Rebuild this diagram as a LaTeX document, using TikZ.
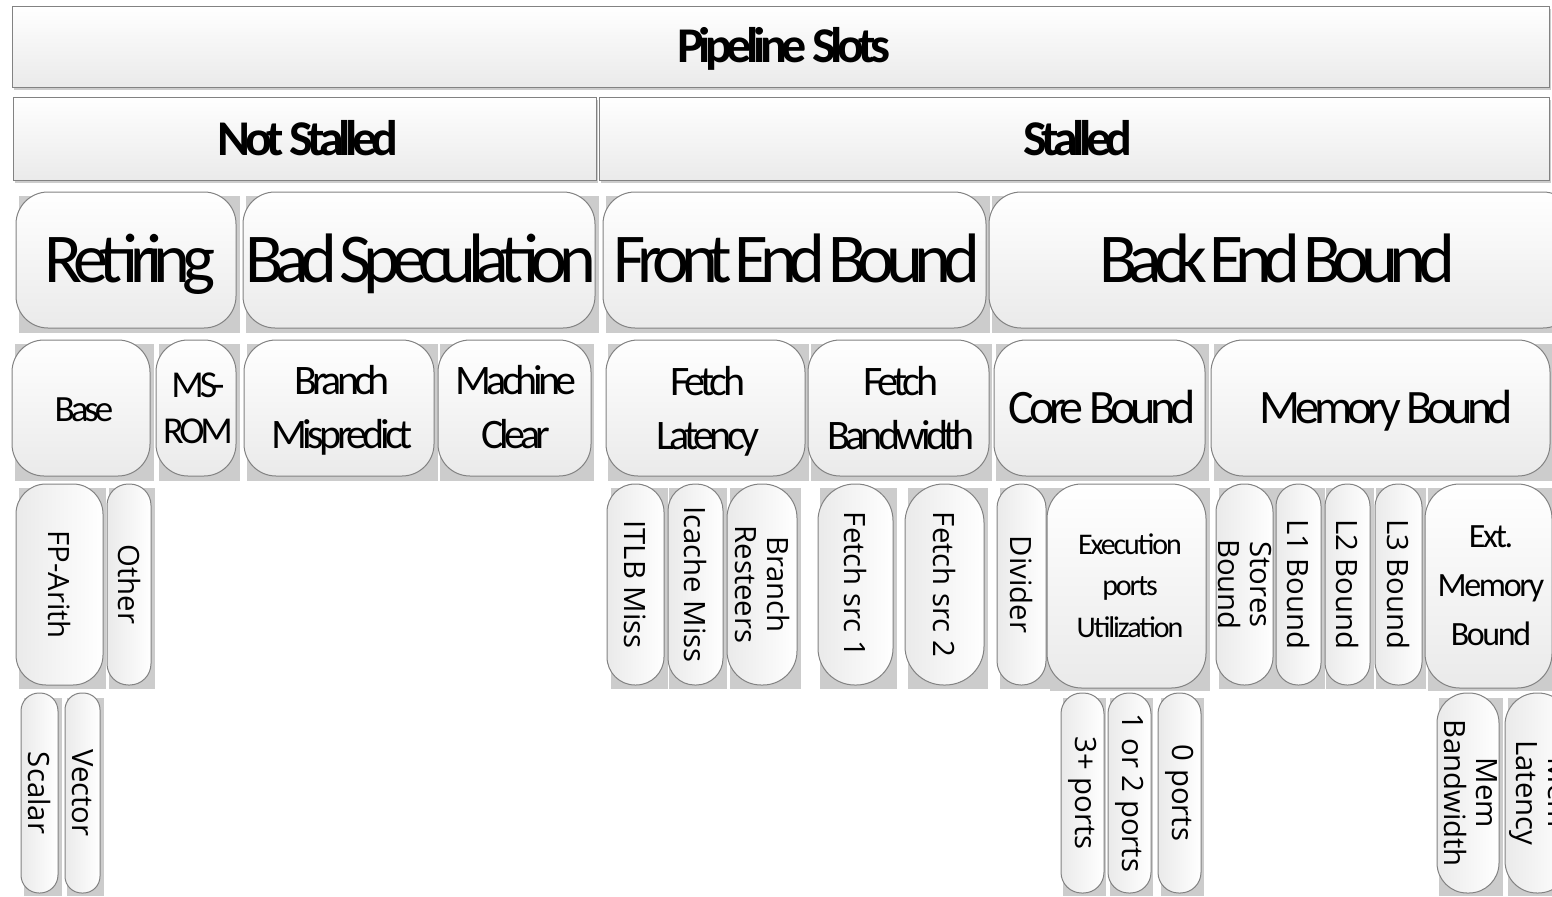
\documentclass[tikz,border=0pt]{standalone}
\usepackage{fontspec}
\newfontfamily\tightfont[LetterSpace=-11]{Carlito}
\newfontfamily\bigfont[LetterSpace=-12,WordSpace=0.35]{Carlito}
\newfontfamily\snugfont[LetterSpace=-7]{Carlito}
\newfontfamily\vertfont{Open Sans}

\definecolor{backgray}{RGB}{204,204,204}
\definecolor{rimgray}{RGB}{130,130,130}
\definecolor{tilelow}{RGB}{234,234,234}

\tikzset{every picture/.style={line width=0.75pt}}
\tikzset{
  backing/.style={fill=backgray, draw=none},
  bar/.style={draw=rimgray, top color=white, bottom color=tilelow},
  tile/.style={draw=rimgray, top color=white, bottom color=tilelow, rounded corners=24pt},
  vtile/.style={draw=rimgray, left color=tilelow, right color=white},
  headtxt/.style={font=\tightfont\bfseries\fontsize{37.5}{45}\selectfont},
  bigtxt/.style={font=\bigfont\fontsize{52.5}{60}\selectfont},
  midtxt/.style={font=\tightfont\fontsize{36}{43}\selectfont},
  twotxt/.style={font=\tightfont\fontsize{31.5}{40.5}\selectfont, align=center},
  smalltxt/.style={font=\snugfont\fontsize{22.5}{31}\selectfont, align=center},
  verttxt/.style={font=\vertfont\fontsize{22}{24}\selectfont, rotate=-90, align=center},
}

\begin{document}
\begin{tikzpicture}[x=0.75pt,y=0.75pt,yscale=-1,xscale=1]
\useasboundingbox (0,0) rectangle (1552,896);
\clip (0,0) rectangle (1552,896);

%Shape: Rectangle (top bar)
\fill[backing] (14,9) rectangle (1551,90);
\draw[bar] (12,6) rectangle (1549,87);
%Shape: Rectangle (second level)
\fill[backing] (15,100) rectangle (598,183);
\draw[bar] (13,97) rectangle (596,180);
\fill[backing] (601,100) rectangle (1551,183);
\draw[bar] (599,97) rectangle (1549,180);

%Shape: Round Rect (level 1)
\fill[backing] (19,196) rectangle (240,333);
\draw[tile] (16,192) rectangle (236,328);
\fill[backing] (246,196) rectangle (599,333);
\draw[tile] (243,192) rectangle (595,328);
\fill[backing] (606,196) rectangle (990,333);
\draw[tile] (603,192) rectangle (986,328);
\fill[backing] (992,196) rectangle (1580,333);
\draw[tile] (989,192) rectangle (1575,328);

%Shape: Round Rect (level 2)
\fill[backing] (15,344) rectangle (154,481);
\draw[tile] (12,340) rectangle (150,476);
\fill[backing] (159,344) rectangle (240,481);
\draw[tile] (156,340) rectangle (236,476);
\fill[backing] (247,344) rectangle (438,481);
\draw[tile] (244,340) rectangle (434,476);
\fill[backing] (440,344) rectangle (594,481);
\draw[tile] (438,340) rectangle (591,476);
\fill[backing] (608,344) rectangle (809,481);
\draw[tile] (606,340) rectangle (805,476);
\fill[backing] (811,344) rectangle (992,481);
\draw[tile] (808,340) rectangle (989,476);
\fill[backing] (996,344) rectangle (1209,481);
\draw[tile] (994,340) rectangle (1205,476);
\fill[backing] (1214,344) rectangle (1556,481);
\draw[tile] (1211,340) rectangle (1550,476);

%Shape: Round Rect (level 3)
\fill[backing] (19,488) rectangle (106,689);
\draw[vtile, rounded corners=22.5pt] (16,484) rectangle (103,685);
\fill[backing] (109,488) rectangle (155,689);
\draw[vtile, rounded corners=16pt] (107,484) rectangle (151,685);
\fill[backing] (611,488) rectangle (668,689);
\draw[vtile, rounded corners=21pt] (607,484) rectangle (664,685);
\fill[backing] (669,488) rectangle (727,689);
\draw[vtile, rounded corners=20pt] (668,484) rectangle (723,685);
\fill[backing] (730,488) rectangle (801,689);
\draw[vtile, rounded corners=25.5pt] (727,484) rectangle (797,685);
\fill[backing] (820,488) rectangle (897,689);
\draw[vtile, rounded corners=27.5pt] (818,484) rectangle (893,685);
\fill[backing] (908,488) rectangle (988,689);
\draw[vtile, rounded corners=29pt] (905,484) rectangle (984,685);
\fill[backing] (1000,488) rectangle (1050,689);
\draw[vtile, rounded corners=18pt] (997,484) rectangle (1046,685);
\fill[backing] (1050,488) rectangle (1210,691);
\draw[tile, rounded corners=26pt] (1047,484) rectangle (1206,688);
\fill[backing] (1219,488) rectangle (1277,689);
\draw[vtile, rounded corners=21pt] (1216,484) rectangle (1273,685);
\fill[backing] (1277,488) rectangle (1325,689);
\draw[vtile, rounded corners=16.5pt] (1276,484) rectangle (1321,685);
\fill[backing] (1326,488) rectangle (1374,689);
\draw[vtile, rounded corners=16.5pt] (1325,484) rectangle (1370,685);
\fill[backing] (1376,488) rectangle (1426,689);
\draw[vtile, rounded corners=17pt] (1375,484) rectangle (1422,685);
\fill[backing] (1428,488) rectangle (1556,691);
\draw[tile, rounded corners=26pt] (1425,484) rectangle (1552,688);

%Shape: Round Rect (level 4)
\fill[backing] (24,698) rectangle (62,896);
\draw[vtile, rounded corners=13.5pt] (21,693) rectangle (58,893);
\fill[backing] (67,698) rectangle (104,896);
\draw[vtile, rounded corners=12.5pt] (65,693) rectangle (100,893);
\fill[backing] (1063,698) rectangle (1106,896);
\draw[vtile, rounded corners=15.5pt] (1061,693) rectangle (1104,893);
\fill[backing] (1110,698) rectangle (1153,896);
\draw[vtile, rounded corners=15.5pt] (1108,693) rectangle (1151,893);
\fill[backing] (1161,698) rectangle (1204,896);
\draw[vtile, rounded corners=15.5pt] (1158,693) rectangle (1201,893);
\fill[backing] (1439,698) rectangle (1503,896);
\draw[vtile, rounded corners=22.5pt] (1437,693) rectangle (1499,893);
\fill[backing] (1508,698) rectangle (1580,896);
\draw[vtile, rounded corners=24pt] (1505,693) rectangle (1570,893);

% Text Node
\draw (784,62) node [anchor=base][inner sep=0.75pt,headtxt] (slots) {Pipeline Slots};
% Text Node
\draw (308,155) node [anchor=base][inner sep=0.75pt,headtxt] (notstalled) {Not Stalled};
% Text Node
\draw (1078,155) node [anchor=base][inner sep=0.75pt,headtxt] (stalled) {Stalled};
% Text Node
\draw (130,282) node [anchor=base][inner sep=0.75pt,bigtxt] (retiring) {Retiring};
% Text Node
\draw (421,282) node [anchor=base][inner sep=0.75pt,bigtxt] (badspec) {Bad Speculation};
% Text Node
\draw (797,282) node [anchor=base][inner sep=0.75pt,bigtxt] (frontend) {Front End Bound};
% Text Node
\draw (1277,282) node [anchor=base][inner sep=0.75pt,bigtxt] (backend) {Back End Bound};
% Text Node
\draw (84,421) node [anchor=base][inner sep=0.75pt,font=\tightfont\fontsize{27.75}{34}\selectfont] (base) {Base};
% Text Node
\draw (198,443) node [anchor=base][inner sep=0.75pt,font=\tightfont\fontsize{28.5}{34.5}\selectfont,align=center] (msrom) {MS-\\ROM};
% Text Node
\draw (342,448) node [anchor=base][inner sep=0.75pt,twotxt] (brmisp) {Branch\\Mispredict};
% Text Node
\draw (516,448) node [anchor=base][inner sep=0.75pt,twotxt] (mclear) {Machine\\Clear};
% Text Node
\draw (708,449) node [anchor=base][inner sep=0.75pt,twotxt] (fetchlat) {Fetch\\Latency};
% Text Node
\draw (901,449) node [anchor=base][inner sep=0.75pt,twotxt] (fetchbw) {Fetch\\Bandwidth};
% Text Node
\draw (1102,423) node [anchor=base][inner sep=0.75pt,midtxt] (corebound) {Core Bound};
% Text Node
\draw (1386,423) node [anchor=base][inner sep=0.75pt,midtxt] (membound) {Memory Bound};
% Text Node
\draw (1130,637) node [anchor=base][inner sep=0.75pt,smalltxt] (execports) {Execution\\ports\\Utilization};
% Text Node
\draw (1491,645) node [anchor=base][inner sep=0.75pt,font=\snugfont\fontsize{25.5}{36.4}\selectfont,align=center] (extmem) {Ext.\\Memory\\Bound};

% Text Node
\draw (59.5,584.5) node [inner sep=0.75pt,verttxt] (fparith) {FP-Arith};
% Text Node
\draw (129,584.5) node [inner sep=0.75pt,verttxt] (other) {Other};
% Text Node
\draw (39.5,793) node [inner sep=0.75pt,verttxt] (scalar) {Scalar};
% Text Node
\draw (82.5,793) node [inner sep=0.75pt,verttxt] (vector) {Vector};
% Text Node
\draw (635.5,584.5) node [inner sep=0.75pt,verttxt] (itlb) {ITLB Miss};
% Text Node
\draw (695.5,584.5) node [inner sep=0.75pt,verttxt] (icache) {Icache Miss};
% Text Node
\draw (762,584.5) node [inner sep=0.75pt,verttxt] (resteers) {Branch\\Resteers};
% Text Node
\draw (855.5,584.5) node [inner sep=0.75pt,verttxt] (fsrcone) {Fetch src 1};
% Text Node
\draw (944.5,584.5) node [inner sep=0.75pt,verttxt] (fsrctwo) {Fetch src 2};
% Text Node
\draw (1021.5,584.5) node [inner sep=0.75pt,verttxt] (divider) {Divider};
% Text Node
\draw (1244.5,584.5) node [inner sep=0.75pt,verttxt] (stores) {Stores\\Bound};
% Text Node
\draw (1298.5,584.5) node [inner sep=0.75pt,verttxt] (lone) {L1 Bound};
% Text Node
\draw (1347.5,584.5) node [inner sep=0.75pt,verttxt] (ltwo) {L2 Bound};
% Text Node
\draw (1398.5,584.5) node [inner sep=0.75pt,verttxt] (lthree) {L3 Bound};
% Text Node
\draw (1082.5,793) node [inner sep=0.75pt,verttxt] (portsthree) {3+ ports};
% Text Node
\draw (1129.5,793) node [inner sep=0.75pt,verttxt] (portsonetwo) {1 or 2 ports};
% Text Node
\draw (1179.5,793) node [inner sep=0.75pt,verttxt] (portszero) {0 ports};
% Text Node
\draw (1471,793) node [inner sep=0.75pt,verttxt] (membw) {Mem\\Bandwidth};
% Text Node
\draw (1539,793) node [inner sep=0.75pt,verttxt] (memlat) {Mem\\Latency};

\end{tikzpicture}
\end{document}
